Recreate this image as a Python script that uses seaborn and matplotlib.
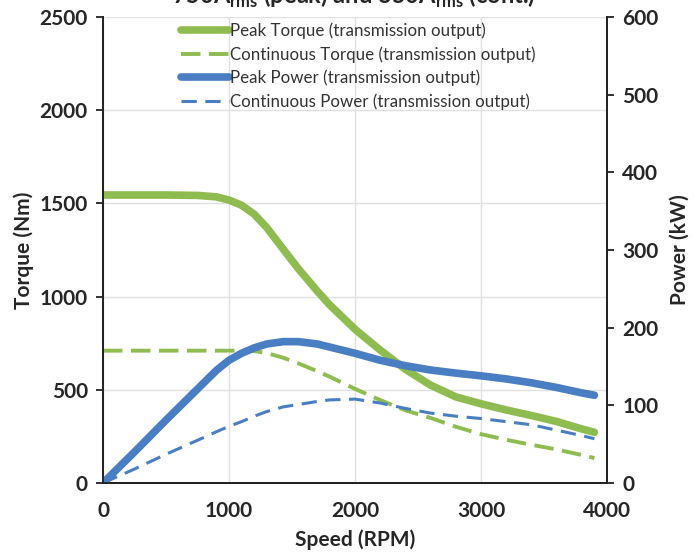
import matplotlib
matplotlib.use('Agg')
import matplotlib.pyplot as plt
import numpy as np
import pandas as pd
import seaborn as sns

# values
speed = [0, 250, 500, 750, 900, 1000, 1100, 1200, 1300, 1430, 1550, 1700, 1800, 2000,
         2200, 2400, 2600, 2800, 3000, 3200, 3400, 3600, 3800, 3900]
peak_torque = [1545, 1545, 1545, 1543, 1535, 1518, 1490, 1442, 1370, 1255, 1150, 1030, 955, 825,
               713, 610, 525, 462, 425, 392, 362, 330, 290, 272]
cont_torque = [710, 710, 710, 710, 710, 710, 710, 708, 697, 672, 642, 600, 570, 505,
               445, 390, 349, 302, 262, 232, 205, 180, 150, 134]
peak_power = [0, 40, 81, 121, 145, 158, 167, 174, 179, 182, 182, 179, 175, 167,
              158, 151, 145.5, 141.5, 138, 134, 129, 123, 116, 113]
cont_power = [0, 18, 37, 55, 66, 73, 79, 86, 92, 98, 101, 105, 107, 108,
              103, 96, 90, 86, 83, 79, 75, 68, 61, 57]

GREEN = '#8FBC50'
BLUE = '#4A7EC2'

df = pd.DataFrame({'speed': speed, 'peak_torque': peak_torque, 'cont_torque': cont_torque,
                   'peak_power': peak_power, 'cont_power': cont_power})

sns.set_style('white')
plt.rcParams['font.family'] = ['Lato', 'DejaVu Sans']
plt.rcParams['mathtext.fontset'] = 'custom'
plt.rcParams['mathtext.rm'] = 'Lato'
plt.rcParams['mathtext.bf'] = 'Lato:bold'

fig = plt.figure(figsize=(6.94, 5.59), dpi=100)
ax = fig.add_axes([103 / 694, 76 / 559, 504 / 694, 466 / 559])
ax2 = ax.twinx()

sns.lineplot(data=df, x='speed', y='peak_torque', ax=ax, color=GREEN, lw=5.5,
             label='Peak Torque (transmission output)', legend=False)
sns.lineplot(data=df, x='speed', y='cont_torque', ax=ax, color=GREEN, lw=2.8,
             label='Continuous Torque (transmission output)', legend=False)
ax.lines[-1].set_dashes([5, 2.2])
sns.lineplot(data=df, x='speed', y='peak_power', ax=ax2, color=BLUE, lw=5.5,
             label='Peak Power (transmission output)', legend=False)
sns.lineplot(data=df, x='speed', y='cont_power', ax=ax2, color=BLUE, lw=2.2,
             label='Continuous Power (transmission output)', legend=False)
ax2.lines[-1].set_dashes([5, 2.8])

ax.set_xlim(0, 4000)
ax.set_ylim(0, 2500)
ax2.set_ylim(0, 600)
ax.set_xticks([0, 1000, 2000, 3000, 4000])
ax.set_yticks([0, 500, 1000, 1500, 2000, 2500])
ax2.set_yticks([0, 100, 200, 300, 400, 500, 600])

ax.grid(True, color='#E0E0E0', lw=1)
ax.set_axisbelow(True)

for a in (ax, ax2):
    a.spines['top'].set_visible(False)
    for s in ('left', 'right', 'bottom'):
        a.spines[s].set_color('#222222')
        a.spines[s].set_linewidth(1.3)
    a.tick_params(direction='out', length=5, width=1.3, color='#222222', labelsize=15)
    for lab in a.get_xticklabels() + a.get_yticklabels():
        lab.set_fontweight('bold')
ax.tick_params(axis='x', pad=8)
ax.tick_params(axis='y', left=True, pad=6)
ax2.tick_params(axis='y', right=True, pad=6)

ax.set_xlabel('Speed (RPM)', fontsize=15, fontweight='bold', labelpad=6)
ax.set_ylabel('Torque (Nm)', fontsize=15, fontweight='bold', labelpad=4)
ax2.set_ylabel('Power (kW)', fontsize=15, fontweight='bold', labelpad=8)

h1, l1 = ax.get_legend_handles_labels()
h2, l2 = ax2.get_legend_handles_labels()
leg = ax2.legend(h1 + h2, l1 + l2, loc='upper left', bbox_to_anchor=(0.142, 1.003), frameon=False,
                 fontsize=12.2, handlelength=2.8, handletextpad=0.1, labelspacing=0.42,
                 borderaxespad=0)
for t in leg.get_texts():
    t.set_color('#333333')

fig.text(0.51, 1 - 4 / 559, r'750A$_{\mathbf{rms}}$ (peak) and 350A$_{\mathbf{rms}}$ (cont.)',
         ha='center', va='baseline', fontsize=17, fontweight='bold')

fig.savefig('out.png', dpi=100)
